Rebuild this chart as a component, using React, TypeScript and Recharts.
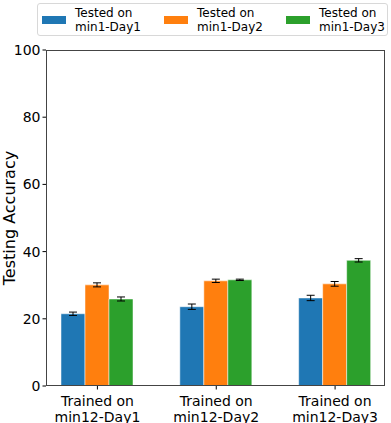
import { BarChart, Bar, XAxis, YAxis, Legend, ErrorBar } from "recharts";

const CATEGORIES = ["min12-Day1", "min12-Day2", "min12-Day3"];
const DAY1 = [21.5, 23.6, 26.2];
const DAY2 = [30.1, 31.3, 30.4];
const DAY3 = [25.9, 31.6, 37.4];
const ERR1 = [0.5, 0.8, 0.8];
const ERR2 = [0.6, 0.5, 0.7];
const ERR3 = [0.6, 0.2, 0.5];
const Y_TICKS = [0, 20, 40, 60, 80, 100];

const SERIES = [
  { key: "d1", err: "e1", name: "min1-Day1", color: "#1f77b4" },
  { key: "d2", err: "e2", name: "min1-Day2", color: "#ff7f0e" },
  { key: "d3", err: "e3", name: "min1-Day3", color: "#2ca02c" },
];

const data = CATEGORIES.map((c, i) => ({
  name: c,
  d1: DAY1[i],
  d2: DAY2[i],
  d3: DAY3[i],
  e1: ERR1[i],
  e2: ERR2[i],
  e3: ERR3[i],
}));

const FONT = "DejaVu Sans, sans-serif";

function TwoLineTick({ x, y, payload }: any) {
  return (
    <text x={x} y={y} textAnchor="middle" fontFamily={FONT} fontSize={14} fill="#000">
      <tspan x={x} dy={14}>Trained on</tspan>
      <tspan x={x} dy={16}>{payload.value}</tspan>
    </text>
  );
}

function LegendBox() {
  return (
    <div
      style={{
        display: "flex",
        border: "1px solid #d8d8d8",
        borderRadius: 3,
        height: 33,
        boxSizing: "border-box",
        fontFamily: FONT,
        fontSize: 12,
        lineHeight: "14px",
        color: "#000",
        alignItems: "center",
        overflow: "hidden",
      }}
    >
      {SERIES.map((s) => (
        <div key={s.key} style={{ display: "flex", alignItems: "center", width: 122, flexShrink: 0 }}>
          <div style={{ width: 24, height: 8, background: s.color, marginLeft: 4, marginRight: 9, flexShrink: 0 }} />
          <div style={{ textAlign: "left", whiteSpace: "nowrap" }}>
            Tested on
            <br />
            {s.name}
          </div>
        </div>
      ))}
    </div>
  );
}

export default function App() {
  return (
    <div style={{ position: "absolute", left: 0, top: 0, width: 391, height: 423, background: "#fff" }}>
      <BarChart
        width={391}
        height={423}
        data={data}
        margin={{ top: 17, right: 6, bottom: 0, left: 0 }}
        barGap={0}
        barSize={24}
      >
        <XAxis
          dataKey="name"
          tick={<TwoLineTick />}
          tickLine={{ stroke: "#000" }}
          tickSize={3.5}
          axisLine={false}
          interval={0}
          padding={{ left: -8, right: -9.5 }}
          height={37}
        />
        <YAxis
          domain={[0, 100]}
          ticks={Y_TICKS}
          width={46}
          tick={{ fontFamily: FONT, fontSize: 14, fill: "#000" }}
          tickLine={{ stroke: "#000" }}
          tickSize={3.5}
          axisLine={false}
          label={{
            value: "Testing Accuracy",
            angle: -90,
            position: "insideLeft",
            dx: 4,
            style: { fontFamily: FONT, fontSize: 16, fill: "#000", textAnchor: "middle" },
          }}
        />
        <Legend
          verticalAlign="top"
          content={<LegendBox />}
          wrapperStyle={{ top: 3, left: 37, width: 351 }}
        />
        {SERIES.map((s) => (
          <Bar key={s.key} dataKey={s.key} name={s.name} fill={s.color} stroke="#fff" strokeWidth={0.5} isAnimationActive={false}>
            <ErrorBar dataKey={s.err} width={4} stroke="#000" strokeWidth={1} />
          </Bar>
        ))}
      </BarChart>
      <div
        style={{
          position: "absolute",
          left: 46,
          top: 50,
          width: 339,
          height: 336,
          border: "1px solid #444",
          boxSizing: "border-box",
          pointerEvents: "none",
        }}
      />
    </div>
  );
}
